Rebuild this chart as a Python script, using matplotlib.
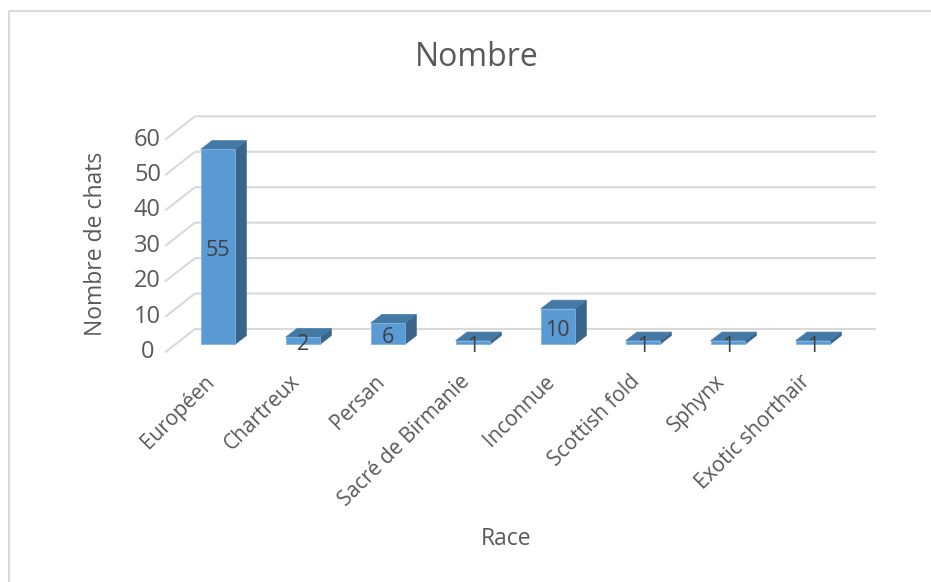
import matplotlib
matplotlib.use("Agg")
import matplotlib.pyplot as plt
from matplotlib.patches import Polygon

categories = ["Européen", "Chartreux", "Persan", "Sacré de Birmanie", "Inconnue",
              "Scottish fold", "Sphynx", "Exotic shorthair"]
values = [55, 2, 6, 1, 10, 1, 1, 1]
y_ticks = [0, 10, 20, 30, 40, 50, 60]
title = "Nombre"
x_title = "Race"
y_title = "Nombre de chats"

W, H = 931, 582
plt.rcParams["font.family"] = ["Open Sans", "DejaVu Sans"]
fig = plt.figure(figsize=(W / 100, H / 100), dpi=100, facecolor="white")
ax = fig.add_axes([0, 0, 1, 1])
ax.axis("off")

PX = 85.0
PY = 3.545
X0 = 217.85
Y0 = 344.3
ax.set_xlim((0 - X0) / PX, (W - X0) / PX)
ax.set_ylim((Y0 - H) / PY, Y0 / PY)
dx = lambda p: p / PX
dy = lambda p: p / PY

FS = 16.5

ax.plot([dx(8.5 - X0), dx(8.5 - X0), dx(W - X0)],
        [dy(Y0 - H), dy(Y0 - 10.5), dy(Y0 - 10.5)], color="#D9D9D9", lw=1.5, zorder=1)

for v in y_ticks:
    yb = v + dy(15.3)
    yf = v + dy(-7.4)
    ax.plot([dx(166 - X0), dx(195 - X0), dx(875 - X0)], [yf, yb, yb],
            color="#D9D9D9", lw=1.5, zorder=2, solid_joinstyle="miter")
    ax.text(dx(147.5 - X0), v + dy(-8), str(v), ha="center", va="center",
            fontsize=17, color="#595959")

hw = dx(34.3) / 2
ddx = dx(11.3)
ddy = dy(8.7)
for i, (c, v) in enumerate(zip(categories, values)):
    l, r = i - hw, i + hw
    ax.add_patch(Polygon([(r, 0), (r + ddx, ddy), (r + ddx, v + ddy), (r, v)],
                         fc="#3A6489", ec="#3A6489", lw=0.5, zorder=3))
    ax.add_patch(Polygon([(l, v), (r, v), (r + ddx, v + ddy), (l + ddx, v + ddy)],
                         fc="#4478A5", ec="#4A7FAE", lw=0.5, zorder=3))
    ax.add_patch(Polygon([(l, 0), (r, 0), (r, v), (l, v)],
                         fc="#5B9BD5", ec="#7FB2E0", lw=0.6, zorder=4))
    ax.text(i, v / 2 + dy(-3.5), str(v), ha="center", va="center",
            fontsize=15.5, color="#404040", zorder=5)
    ax.text(i + dx(-13.5), dy(-27), c, rotation=45, rotation_mode="anchor",
            ha="right", va="top", fontsize=15, color="#595959")

ax.text(dx(477 - X0), dy(Y0 - 57), title, ha="center", va="center", fontsize=23, color="#595959")
ax.text(dx(506 - X0), dy(Y0 - 539), x_title, ha="center", va="center", fontsize=FS, color="#595959")
ax.text(dx(96 - X0), dy(Y0 - 244), y_title, ha="center", va="center", rotation=90,
        fontsize=FS, color="#595959")

fig.savefig("out.png", dpi=100, facecolor="white")
